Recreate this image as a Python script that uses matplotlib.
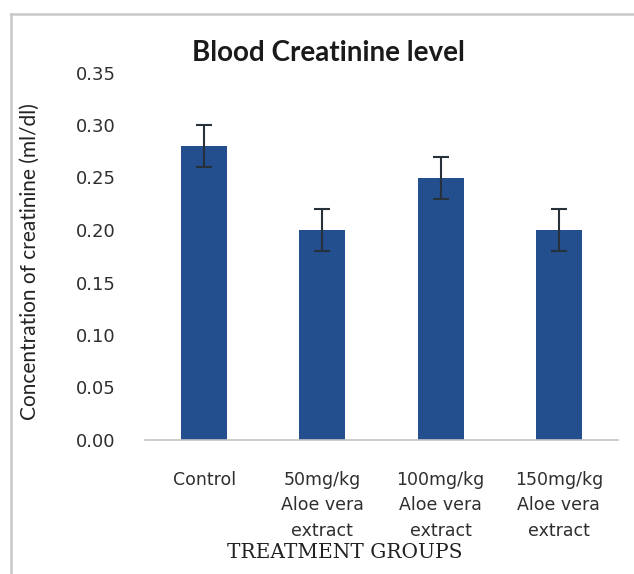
import numpy as np
import matplotlib.pyplot as plt
from matplotlib.lines import Line2D

plt.rcParams["font.family"] = "DejaVu Sans"

groups = ["Control", "50mg/kg\nAloe vera\nextract", "100mg/kg\nAloe vera\nextract",
          "150mg/kg\nAloe vera\nextract"]
creatinine = [0.28, 0.20, 0.25, 0.20]
errors = [0.02, 0.02, 0.02, 0.02]
yticks = [0.00, 0.05, 0.10, 0.15, 0.20, 0.25, 0.30, 0.35]

fig = plt.figure(figsize=(6.34, 5.74), dpi=100)
ax = fig.add_axes([145 / 634, 1 - 440 / 574, 473 / 634, 367.5 / 574])

x = np.arange(len(groups))
ax.bar(x, creatinine, width=0.39, color="#234F8E", zorder=2)
ax.errorbar(x, creatinine, yerr=errors, fmt="none", ecolor="#27313c",
            elinewidth=1.5, capsize=6, capthick=1.5, zorder=3)

ax.set_xlim(-0.5, 3.5)
ax.set_ylim(0, 0.35)
ax.set_yticks(yticks)
ax.set_yticklabels([f"{v:.2f}" for v in yticks], fontsize=13, color="#2e2e2e")
ax.set_xticks(x)
ax.set_xticklabels(groups, fontsize=12.5, color="#2e2e2e", linespacing=1.55)
ax.tick_params(axis="both", length=0)
ax.tick_params(axis="x", pad=22)
ax.tick_params(axis="y", pad=21)

for s in ["top", "right", "left"]:
    ax.spines[s].set_visible(False)
ax.spines["bottom"].set_color("#c4c4c4")
ax.spines["bottom"].set_linewidth(1.2)

fig.text(30 / 634, 1 - 262 / 574, "Concentration of creatinine (ml/dl)", family="Lato",
         fontsize=15, color="#222222", rotation=90, ha="center", va="center")

fig.text(328 / 634, 1 - 53 / 574, "Blood Creatinine level", family="Lato",
         fontweight="bold", fontsize=20, color="#1a1a1a", ha="center", va="center")
fig.text(345 / 634, 1 - 552 / 574, "TREATMENT GROUPS", family="DejaVu Serif",
         fontsize=14.5, color="#222222", ha="center", va="center")

# outer frame
fig.add_artist(Line2D([11 / 634, 1], [1 - 14 / 574, 1 - 14 / 574],
                      color="#c8c8c8", lw=1.8, transform=fig.transFigure))
fig.add_artist(Line2D([11 / 634, 11 / 634], [0, 1 - 14 / 574],
                      color="#c8c8c8", lw=1.8, transform=fig.transFigure))

fig.savefig("out.png", dpi=100)
